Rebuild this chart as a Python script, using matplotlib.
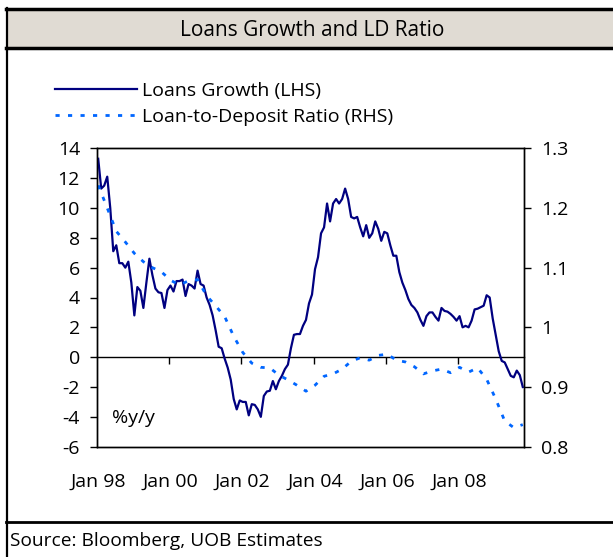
import matplotlib.pyplot as plt
from matplotlib.lines import Line2D
from matplotlib.patches import Rectangle

plt.rcParams['font.family'] = ['Open Sans', 'DejaVu Sans']

# monthly loans growth, Jan 98 onwards (%y/y, LHS)
loans_growth = [
    13.3, 11.3, 11.5, 12.1, 10.0, 7.1, 7.5, 6.3, 6.3, 6.0,
    6.4, 5.0, 2.8, 4.7, 4.45, 3.3, 5.0, 6.6, 5.5, 4.6,
    4.35, 4.3, 3.3, 4.5, 4.8, 4.4, 5.1, 5.1, 5.2, 4.1,
    4.9, 4.8, 4.6, 5.8, 4.9, 4.8, 4.0, 3.5, 2.8, 1.8,
    0.7, 0.6, -0.1, -0.7, -1.5, -2.8, -3.5, -2.9, -3.0, -3.0,
    -3.9, -3.15, -3.2, -3.5, -4.0, -2.6, -2.3, -2.25, -1.6, -2.15,
    -1.6, -1.25, -0.8, -0.5, 0.6, 1.5, 1.55, 1.55, 2.1, 2.5,
    3.6, 4.2, 5.9, 6.7, 8.3, 8.7, 10.3, 9.1, 10.3, 10.6,
    10.3, 10.6, 11.3, 10.6, 9.4, 9.3, 9.4, 8.7, 8.1, 8.85,
    8.0, 8.3, 9.1, 8.6, 7.8, 8.4, 8.3, 7.5, 6.8, 6.8,
    5.7, 5.0, 4.5, 3.9, 3.5, 3.3, 3.0, 2.5, 2.1, 2.75,
    3.0, 3.0, 2.7, 2.45, 3.3, 3.1, 3.05, 2.9, 2.7, 2.45,
    2.75, 2.0, 2.1, 2.0, 2.45, 3.2, 3.25, 3.35, 3.45, 4.15,
    4.0, 2.6, 1.5, 0.4, -0.25, -0.35, -0.8, -1.25, -1.35, -0.9,
    -1.2, -2.0,
]
months = list(range(len(loans_growth)))

# quarterly loan-to-deposit ratio (RHS)
ld_months = list(range(0, 142, 3))
ld_ratio = [
    1.238, 1.200, 1.161, 1.143, 1.124, 1.110, 1.100, 1.093, 1.079, 1.071,
    1.078, 1.080, 1.053, 1.036, 1.018, 0.985, 0.958, 0.940, 0.933, 0.932,
    0.920, 0.912, 0.903, 0.893, 0.903, 0.918, 0.922, 0.930, 0.943, 0.949,
    0.945, 0.953, 0.955, 0.945, 0.942, 0.934, 0.922, 0.927, 0.930, 0.924,
    0.933, 0.925, 0.932, 0.913, 0.880, 0.843, 0.832, 0.837,
]

label_months = [0, 24, 48, 72, 96, 120]
label_text = ['Jan 98', 'Jan 00', 'Jan 02', 'Jan 04', 'Jan 06', 'Jan 08']
zero_ticks = [23.5, 47.5, 71.5, 95.5, 119.5]

left_ticks = [-6, -4, -2, 0, 2, 4, 6, 8, 10, 12, 14]
right_ticks = [0.8, 0.9, 1.0, 1.1, 1.2, 1.3]
right_labels = ['0.8', '0.9', '1', '1.1', '1.2', '1.3']

W, H = 613, 557
fig = plt.figure(figsize=(W / 100, H / 100), dpi=100)

# frame and title band
fig.patches.append(Rectangle((6 / W, 1 - 48 / H), 1, 40 / H, transform=fig.transFigure,
                             facecolor='#e0dbd3', edgecolor='none'))
for y, lw in [(8.5, 2.5), (47.5, 2.5), (521.5, 2.0)]:
    fig.add_artist(Line2D([6 / W, 1], [1 - y / H, 1 - y / H], color='black', lw=lw))
fig.add_artist(Line2D([6.5 / W, 6.5 / W], [0, 1 - 7.5 / H], color='black', lw=1.6))

fig.text(312 / W, 1 - 30 / H, 'Loans Growth and LD Ratio', ha='center', va='center',
         fontsize=15)
fig.text(10 / W, 1 - 541 / H, 'Source: Bloomberg, UOB Estimates', ha='left', va='center',
         fontsize=13.8)

ax = fig.add_axes([96.7 / W, 1 - 446.7 / H, (524.3 - 96.7) / W, (446.7 - 148.3) / H])
ax2 = ax.twinx()

l1, = ax.plot(months, loans_growth, color='#000080', lw=1.6, zorder=3)
l2, = ax2.plot(ld_months, ld_ratio, color='#0066ff', lw=2.0,
               linestyle=(0, (1.5, 3.0)), dash_capstyle='butt')

ax.set_xlim(-0.5, 141.5)
ax.set_ylim(-6, 14)
ax2.set_ylim(0.8, 1.3)

ax.set_yticks(left_ticks)
ax.set_yticklabels([str(t) for t in left_ticks])
ax2.set_yticks(right_ticks)
ax2.set_yticklabels(right_labels)

ax.set_xticks(label_months)
ax.set_xticklabels(label_text)
ax.tick_params(axis='x', length=0, pad=19, labelsize=14)
ax.tick_params(axis='y', direction='out', length=5, width=1, pad=7, labelsize=14)
ax2.tick_params(axis='y', direction='out', length=5, width=1, pad=7, labelsize=14)

for a in (ax, ax2):
    for s in a.spines.values():
        s.set_linewidth(1.0)
        s.set_color('black')

# axis crossing at zero with its own tick marks
sec = ax.secondary_xaxis(0.3)
sec.set_xticks(zero_ticks)
sec.tick_params(direction='out', length=5, width=1, labelbottom=False, labeltop=False)
for s in sec.spines.values():
    s.set_linewidth(1.0)

ax.text(4.5, -4.1, '%y/y', ha='left', va='center', fontsize=14)

fig.legend([l1, l2], ['Loans Growth (LHS)', 'Loan-to-Deposit Ratio (RHS)'],
           loc='upper left', bbox_to_anchor=(55 / W, 1 - 82 / H), frameon=False,
           fontsize=14, handlelength=4.2, handletextpad=0.3, labelspacing=0.4,
           borderpad=0, borderaxespad=0)

fig.savefig('out.png', dpi=100)
